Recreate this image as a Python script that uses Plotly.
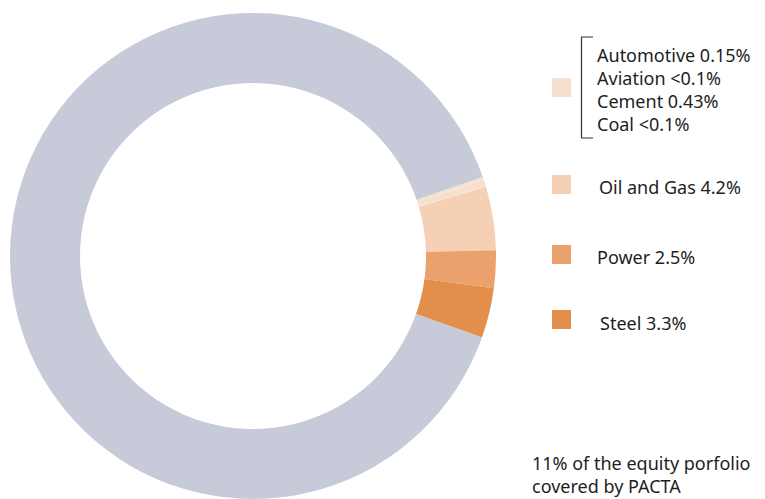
import plotly.graph_objects as go

W, H = 765, 499

# Portfolio shares by sector (percent of equity portfolio)
sectors = ["Automotive", "Aviation", "Cement", "Coal", "Oil and Gas", "Power", "Steel", "Not covered"]
shares = [0.15, 0.05, 0.43, 0.05, 4.2, 2.5, 3.3, 89.0]
slice_colors = ["#f7dfcd", "#f7dfcd", "#f7dfcd", "#f7dfcd", "#f5d0b4", "#eaa16b", "#e38f4b", "#c7cad9"]

# Legend groups: label lines, swatch colour
legend_groups = [
    (["Automotive 0.15%", "Aviation <0.1%", "Cement 0.43%", "Coal <0.1%"], "#f7dfcd"),
    (["Oil and Gas 4.2%"], "#f5d0b4"),
    (["Power 2.5%"], "#eaa16b"),
    (["Steel 3.3%"], "#e38f4b"),
]
footnote = ["11% of the equity porfolio", "covered by PACTA"]

FONT = "Noto Sans"
TXT = "#1e1e1e"
FS = 18


def px(x):
    return x / W


def py(y):
    return 1 - y / H


fig = go.Figure(go.Pie(
    labels=sectors,
    values=shares,
    hole=0.712,
    sort=False,
    direction="clockwise",
    rotation=71,
    marker=dict(colors=slice_colors, line=dict(width=0)),
    textinfo="none",
    hoverinfo="label+percent",
    domain=dict(x=[px(253 - 243), px(253 + 243)], y=[py(499), py(13)]),
    showlegend=False,
))

shapes = []
annotations = []

# swatches
swatch_tops = [78, 175, 245, 310]
for (lines, color), top in zip(legend_groups, swatch_tops):
    shapes.append(dict(type="rect", xref="paper", yref="paper",
                       x0=px(552), x1=px(571), y0=py(top + 19), y1=py(top),
                       fillcolor=color, line=dict(width=0)))

# bracket around the grouped sectors
shapes.append(dict(type="path", xref="paper", yref="paper",
                   path=f"M {px(593)} {py(37)} L {px(581.5)} {py(37)} L {px(581.5)} {py(138)} L {px(593)} {py(138)}",
                   line=dict(color="#333333", width=1.2)))

# grouped labels
for text, yc in zip(legend_groups[0][0], [55, 78, 101, 124]):
    annotations.append(dict(text=text, x=px(595), y=py(yc), xref="paper", yref="paper",
                            xanchor="left", yanchor="middle", showarrow=False,
                            font=dict(family=FONT, size=FS, color=TXT)))

for (lines, _), (xs, yc) in zip(legend_groups[1:], [(597, 187), (595, 257), (598, 323)]):
    annotations.append(dict(text=lines[0], x=px(xs), y=py(yc), xref="paper", yref="paper",
                            xanchor="left", yanchor="middle", showarrow=False,
                            font=dict(family=FONT, size=FS, color=TXT)))

annotations.append(dict(text="<br>".join(footnote), x=px(530), y=py(474), xref="paper", yref="paper",
                        xanchor="left", yanchor="middle", align="left", showarrow=False,
                        font=dict(family=FONT, size=FS, color=TXT)))

fig.update_layout(
    width=W, height=H,
    margin=dict(l=0, r=0, t=0, b=0),
    paper_bgcolor="white",
    plot_bgcolor="white",
    shapes=shapes,
    annotations=annotations,
)

fig.write_html("out.html")
